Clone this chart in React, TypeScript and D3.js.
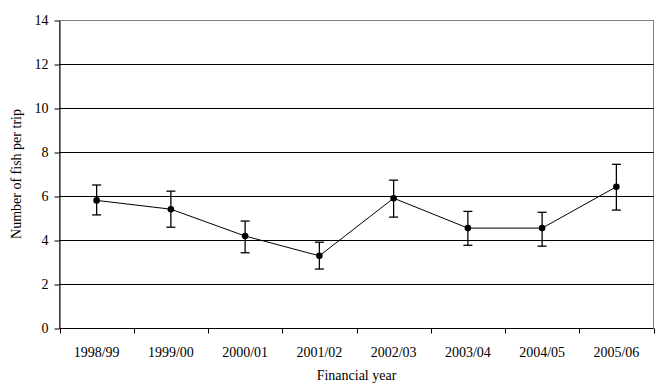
import React, { useEffect, useRef } from 'react';
import * as d3 from 'd3';

// data
const years = ['1998/99', '1999/00', '2000/01', '2001/02', '2002/03', '2003/04', '2004/05', '2005/06'];
const meanFish = [5.8, 5.4, 4.18, 3.28, 5.9, 4.54, 4.54, 6.42];
const errLow = [0.66, 0.82, 0.76, 0.6, 0.86, 0.78, 0.82, 1.06];
const errHigh = [0.7, 0.82, 0.68, 0.62, 0.82, 0.76, 0.72, 1.02];
const yTicks = [0, 2, 4, 6, 8, 10, 12, 14];

const App = () => {
  const ref = useRef<SVGSVGElement>(null);

  const width = 664, height = 392;
  const left = 59.5, right = 653.5, top = 20, bottom = 328;
  const font = "'Liberation Serif', 'Times New Roman', 'DejaVu Serif', serif";

  useEffect(() => {
    const svg = d3.select(ref.current);
    svg.selectAll('*').remove();

    const x = d3.scaleBand().domain(years).range([left, right]);
    const y = d3.scaleLinear().domain([0, 14]).range([bottom, top]);

    // plot border (grey top and right)
    svg.append('rect')
      .attr('x', left).attr('y', y(14) + 0.5)
      .attr('width', right - left).attr('height', bottom - y(14))
      .attr('fill', 'none').attr('stroke', '#808080').attr('stroke-width', 1);

    // gridlines
    svg.append('g')
      .selectAll('line')
      .data(yTicks.filter(t => t > 0 && t < 14))
      .join('line')
      .attr('x1', left).attr('x2', right)
      .attr('y1', d => Math.round(y(d)) + 0.5).attr('y2', d => Math.round(y(d)) + 0.5)
      .attr('stroke', '#000').attr('stroke-width', 1);

    // y axis
    svg.append('g')
      .attr('transform', `translate(${left},0.5)`)
      .call(d3.axisLeft(y).tickValues(yTicks).tickSize(5).tickSizeOuter(0).tickPadding(6))
      .call(g => {
        g.attr('font-family', null).attr('font-size', null);
        g.selectAll('.tick text').style('font-family', font).style('font-size', '14px').attr('fill', '#000');
      });

    // x axis with ticks at band edges
    const xAxis = svg.append('g').attr('transform', `translate(0,${bottom + 0.5})`);
    xAxis.append('line').attr('x1', left).attr('x2', right).attr('stroke', '#000');
    xAxis.selectAll('line.tk')
      .data(d3.range(years.length + 1))
      .join('line')
      .attr('class', 'tk')
      .attr('x1', i => Math.round(left + i * x.bandwidth()) + 0.5)
      .attr('x2', i => Math.round(left + i * x.bandwidth()) + 0.5)
      .attr('y1', 0).attr('y2', 5)
      .attr('stroke', '#000');
    xAxis.selectAll('text')
      .data(years)
      .join('text')
      .attr('x', d => x(d)! + x.bandwidth() / 2)
      .attr('y', 28)
      .attr('text-anchor', 'middle')
      .style('font-family', font).style('font-size', '14px')
      .text(d => d);

    const cx = (i: number) => x(years[i])! + x.bandwidth() / 2;

    // line
    const line = d3.line<number>().x((_, i) => cx(i)).y(d => y(d));
    svg.append('path')
      .datum(meanFish)
      .attr('d', line)
      .attr('fill', 'none').attr('stroke', '#000').attr('stroke-width', 1);

    // error bars
    const eb = svg.append('g').attr('stroke', '#000').attr('stroke-width', 1.3);
    meanFish.forEach((v, i) => {
      const hi = y(v + errHigh[i]), lo = y(v - errLow[i]);
      eb.append('line').attr('x1', cx(i)).attr('x2', cx(i)).attr('y1', hi).attr('y2', lo);
      eb.append('line').attr('x1', cx(i) - 4.5).attr('x2', cx(i) + 4.5).attr('y1', hi).attr('y2', hi);
      eb.append('line').attr('x1', cx(i) - 4.5).attr('x2', cx(i) + 4.5).attr('y1', lo).attr('y2', lo);
    });

    // markers
    svg.append('g')
      .selectAll('circle')
      .data(meanFish)
      .join('circle')
      .attr('cx', (_, i) => cx(i)).attr('cy', d => y(d))
      .attr('r', 3.3).attr('fill', '#000');

    // titles
    svg.append('text')
      .attr('x', (left + right) / 2).attr('y', 380)
      .attr('text-anchor', 'middle')
      .style('font-family', font).style('font-size', '14px')
      .text('Financial year');

    svg.append('text')
      .attr('transform', `translate(21,${(top + bottom) / 2}) rotate(-90)`)
      .attr('text-anchor', 'middle')
      .style('font-family', font).style('font-size', '14px')
      .text('Number of fish per trip');
  }, []);

  return (
    <svg
      ref={ref}
      width={width}
      height={height}
      style={{ position: 'absolute', left: 0, top: 0, background: '#fff' }}
    />
  );
};

export default App;
